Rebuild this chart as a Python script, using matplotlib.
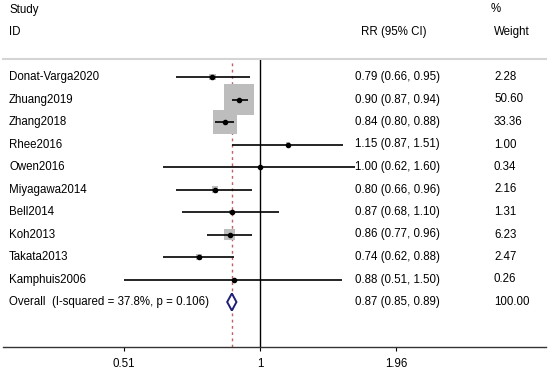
import numpy as np
import matplotlib
matplotlib.use('Agg')
from matplotlib import pyplot as plt
from matplotlib.patches import Polygon
from matplotlib.transforms import blended_transform_factory

plt.rcParams['font.family'] = ['Liberation Sans', 'DejaVu Sans']
plt.rcParams['font.size'] = 8.3

# 数据
studies = ['Donat-Varga2020', 'Zhuang2019', 'Zhang2018', 'Rhee2016', 'Owen2016',
           'Miyagawa2014', 'Bell2014', 'Koh2013', 'Takata2013', 'Kamphuis2006']
rr = [0.79, 0.90, 0.84, 1.15, 1.00, 0.80, 0.87, 0.86, 0.74, 0.88]
lo = [0.66, 0.87, 0.80, 0.87, 0.62, 0.66, 0.68, 0.77, 0.62, 0.51]
hi = [0.95, 0.94, 0.88, 1.51, 1.60, 0.96, 1.10, 0.96, 0.88, 1.50]
weight = [2.28, 50.60, 33.36, 1.00, 0.34, 2.16, 1.31, 6.23, 2.47, 0.26]
overall = (0.87, 0.85, 0.89)
overall_weight = 100.00
overall_label = 'Overall  (I-squared = 37.8%, p = 0.106)'
xticks = [0.51, 1, 1.96]
xticklabels = ['0.51', '1', '1.96']

W, H = 550, 377
fig = plt.figure(figsize=(W / 100, H / 100), dpi=100)
ax = fig.add_axes([3 / W, (H - 347) / H, 543 / W, 288 / H])
ax.set_xscale('log')
ax.set_xlim(np.exp((3 - 260) / 202), np.exp((546 - 260) / 202))
ax.set_ylim(12, -0.8)

n = len(studies)
rows = np.arange(n)

# 参考线
ax.axvline(1, color='black', lw=1)
ax.axvline(overall[0], color='#c0606a', lw=1, dashes=(2, 2.5))

# 权重方块
side_pt = 4.22 * np.sqrt(weight) * 0.72
ax.scatter(rr, rows, marker='s', s=side_pt ** 2, color='#bdbdbd', lw=0, zorder=2)

# 置信区间
ax.hlines(rows, lo, hi, color='black', lw=1.2, zorder=3)
ax.plot(rr, rows, 'o', color='black', ms=3, zorder=4)

# 合并效应菱形
oy = n
h = 0.38
diamond = Polygon([(overall[1], oy), (overall[0], oy - h), (overall[2], oy), (overall[0], oy + h)],
                  closed=True, fc='white', ec='#1f1f7a', lw=1.4, zorder=4)
ax.add_patch(diamond)

# 文字
tr = blended_transform_factory(fig.transFigure, ax.transData)
ax.text(9 / W, -3, 'Study', transform=tr, va='center', ha='left')
ax.text(9 / W, -2, 'ID', transform=tr, va='center', ha='left')
ax.text(361 / W, -2, 'RR (95% CI)', transform=tr, va='center', ha='left')
ax.text(491 / W, -3, '%', transform=tr, va='center', ha='left')
ax.text(494 / W, -2, 'Weight', transform=tr, va='center', ha='left')

for i in range(n):
    ax.text(9 / W, i, studies[i], transform=tr, va='center', ha='left')
    ax.text(355 / W, i, f'{rr[i]:.2f} ({lo[i]:.2f}, {hi[i]:.2f})', transform=tr, va='center', ha='left')
    ax.text(494 / W, i, f'{weight[i]:.2f}', transform=tr, va='center', ha='left')

ax.text(9 / W, oy, overall_label, transform=tr, va='center', ha='left')
ax.text(355 / W, oy, f'{overall[0]:.2f} ({overall[1]:.2f}, {overall[2]:.2f})', transform=tr, va='center', ha='left')
ax.text(494 / W, oy, f'{overall_weight:.2f}', transform=tr, va='center', ha='left')

# 坐标轴
for s in ['left', 'right']:
    ax.spines[s].set_visible(False)
ax.spines['top'].set_color('#d4d4d4')
ax.spines['top'].set_linewidth(1.5)
ax.spines['bottom'].set_color('#333333')
ax.spines['bottom'].set_linewidth(1)
ax.set_yticks([])
ax.set_xticks(xticks)
ax.set_xticklabels(xticklabels)
ax.xaxis.set_minor_locator(matplotlib.ticker.NullLocator())
ax.tick_params(axis='x', length=3, width=0.8, pad=5, labelsize=8.3)

fig.savefig('out.png', dpi=100)
